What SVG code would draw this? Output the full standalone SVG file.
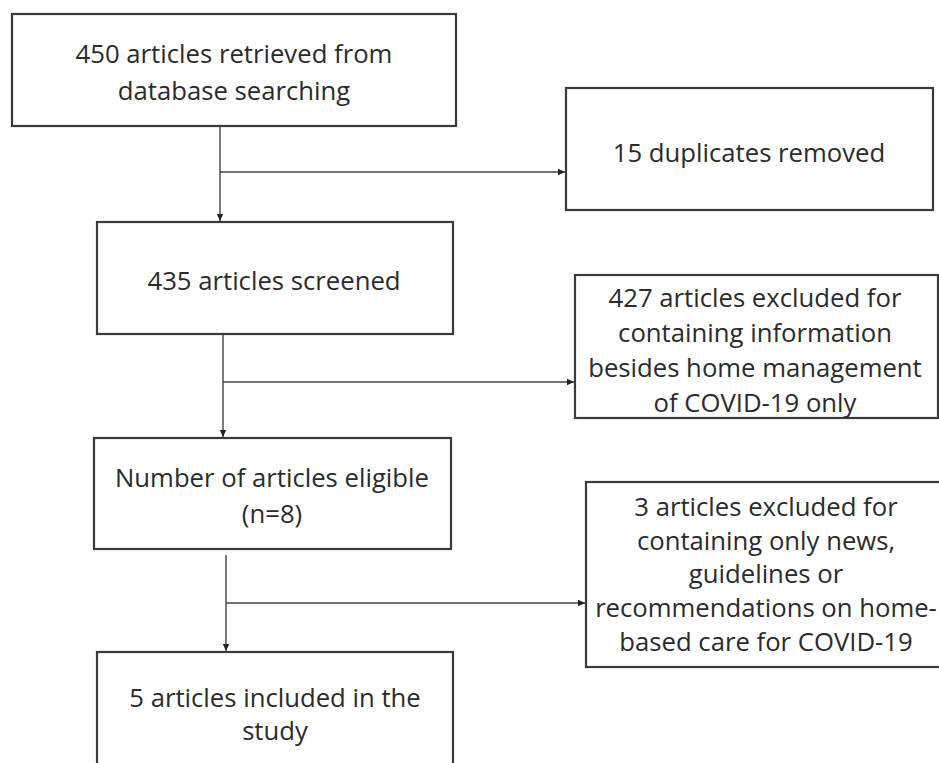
<svg xmlns="http://www.w3.org/2000/svg" width="939" height="763" viewBox="0 0 939 763">
<style>
.box{fill:#fff;stroke:#3a3a3a;stroke-width:2.2}
.t{font-family:"Open Sans","Liberation Sans",sans-serif;font-size:25.7px;fill:#2b2b2b;text-anchor:middle;dominant-baseline:central}
.c{stroke:#444;stroke-width:1.4;fill:none}
</style>
<defs>
<marker id="ah" markerWidth="8" markerHeight="8" refX="7" refY="4" orient="auto" markerUnits="userSpaceOnUse">
<path d="M0,0.8 L7,4 L0,7.2 Z" fill="#222"/>
</marker>
</defs>
<rect width="939" height="763" fill="#fff"/>
<g id="connectors">
<line class="c" x1="220" y1="126" x2="220" y2="221" marker-end="url(#ah)"/>
<line class="c" x1="220" y1="172" x2="565" y2="172" marker-end="url(#ah)"/>
<line class="c" x1="223" y1="334" x2="223" y2="437" marker-end="url(#ah)"/>
<line class="c" x1="223" y1="382" x2="574" y2="382" marker-end="url(#ah)"/>
<line class="c" x1="226" y1="555" x2="226" y2="651" marker-end="url(#ah)"/>
<line class="c" x1="226" y1="603" x2="585" y2="603" marker-end="url(#ah)"/>
</g>
<g id="n1">
<rect class="box" x="12" y="14" width="444" height="112"/>
<text class="t" x="234" y="53">450 articles retrieved from</text>
<text class="t" x="234" y="90">database searching</text>
</g>
<g id="n2">
<rect class="box" x="566" y="88" width="367" height="122"/>
<text class="t" x="749" y="152">15 duplicates removed</text>
</g>
<g id="n3">
<rect class="box" x="97" y="222" width="356" height="112"/>
<text class="t" x="274" y="280">435 articles screened</text>
</g>
<g id="n4">
<rect class="box" x="575" y="275" width="363" height="143"/>
<text class="t" x="755" y="297">427 articles excluded for</text>
<text class="t" x="755" y="332">containing information</text>
<text class="t" x="755" y="367">besides home management</text>
<text class="t" x="755" y="402">of COVID-19 only</text>
</g>
<g id="n5">
<rect class="box" x="94" y="438" width="357" height="111"/>
<text class="t" x="272" y="477">Number of articles eligible</text>
<text class="t" x="272" y="513">(n=8)</text>
</g>
<g id="n6">
<rect class="box" x="97" y="652" width="356" height="130"/>
<text class="t" x="275" y="697">5 articles included in the</text>
<text class="t" x="275" y="730">study</text>
</g>
<g id="n7">
<rect class="box" x="586" y="482" width="370" height="185"/>
<text class="t" x="766" y="506">3 articles excluded for</text>
<text class="t" x="766" y="540">containing only news,</text>
<text class="t" x="766" y="573">guidelines or</text>
<text class="t" x="766" y="607">recommendations on home-</text>
<text class="t" x="766" y="641">based care for COVID-19</text>
</g>
</svg>
